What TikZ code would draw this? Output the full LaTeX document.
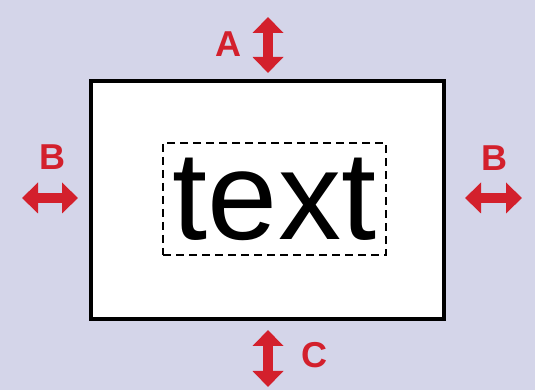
\documentclass[tikz,border=0pt]{standalone}
\usepackage{fontspec}
\setmainfont{Liberation Sans}
\usepackage{tikz}
\usetikzlibrary{positioning,arrows.meta}

\definecolor{lavender}{HTML}{D4D5E9}
\definecolor{marginred}{HTML}{D3202C}

\begin{document}
\begin{tikzpicture}[x=1pt,y=1pt,
    gap/.style={line width=10pt,draw=marginred,{Triangle[width=30pt,length=16pt]}-{Triangle[width=30pt,length=16pt]}},
    tag/.style={text=marginred,font=\fontsize{36}{36}\selectfont\bfseries,inner sep=0pt}]
  \fill[lavender] (0,0) rectangle (535,390);
  \useasboundingbox (0,0) rectangle (535,390);
  % outer frame and the text box inside it
  \node[draw,fill=white,line width=4pt,inner sep=0pt,minimum width=353.5pt,minimum height=238.5pt](frame) at (267.25,189.75){};
  \node[draw,dashed,dash pattern=on 8pt off 5pt,line width=1.8pt,inner sep=0pt,minimum width=223pt,minimum height=112pt,font=\fontsize{126}{126}\selectfont](word) at (274.5,191){text};
  % spacing arrows
  \coordinate (a1) at (268,373);
  \coordinate (a2) at (268,317);
  \coordinate (c1) at (268,60);
  \coordinate (c2) at (268,3);
  \coordinate (bl1) at (22,192);
  \coordinate (bl2) at (78,192);
  \coordinate (br1) at (465,192);
  \coordinate (br2) at (522,192);
  \draw[gap] (a1) -- (a2);
  \draw[gap] (c1) -- (c2);
  \draw[gap] (bl1) -- (bl2);
  \draw[gap] (br1) -- (br2);
  \node[tag](A) at (228,345.5){A};
  \node[tag](C) at (314,35){C};
  \node[tag](B1) at (52,233){B};
  \node[tag](B2) at (494,232){B};
\end{tikzpicture}
\end{document}
